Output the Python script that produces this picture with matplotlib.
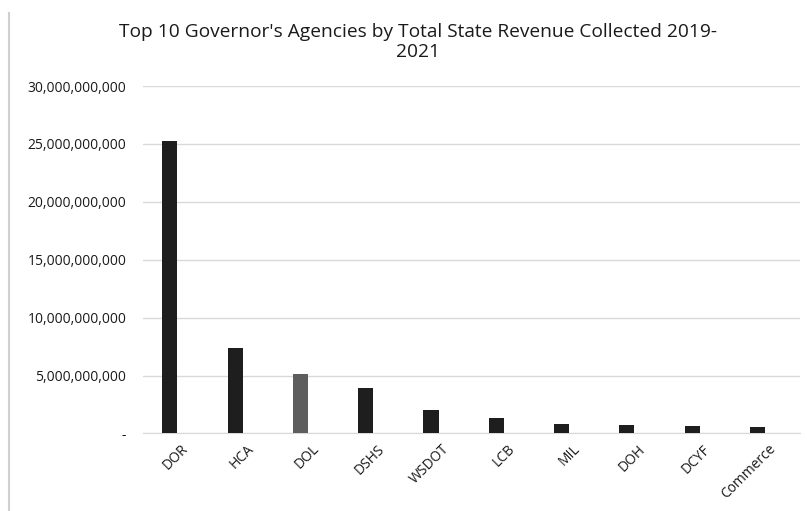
import numpy as np
import matplotlib
matplotlib.use("Agg")
import matplotlib.pyplot as plt
import matplotlib.transforms as mtransforms
from matplotlib.ticker import FuncFormatter
from matplotlib.lines import Line2D

# agencies and revenue collected (dollars)
agencies = ["DOR", "HCA", "DOL", "DSHS", "WSDOT", "LCB", "MIL", "DOH", "DCYF", "Commerce"]
revenue = [25.25e9, 7.38e9, 5.14e9, 3.93e9, 2.03e9, 1.31e9, 0.82e9, 0.73e9, 0.65e9, 0.54e9]
bar_colors = ["#1e1e1e", "#1e1e1e", "#5e5e5e", "#1e1e1e", "#1e1e1e",
              "#1e1e1e", "#1e1e1e", "#1e1e1e", "#1e1e1e", "#1e1e1e"]
yticks = [0, 5e9, 10e9, 15e9, 20e9, 25e9, 30e9]

plt.rcParams['font.family'] = ['Open Sans', 'DejaVu Sans']

fig = plt.figure(figsize=(8.07, 5.11), dpi=100)
ax = fig.add_axes([0.1772, 0.1517, 0.8141, 0.68])

x = np.arange(len(agencies))
ax.bar(x, revenue, width=0.23, color=bar_colors, zorder=3)

ax.set_xlim(-0.41, 9.65)
ax.set_ylim(0, 30e9)
ax.set_yticks(yticks)

def fmt(v, pos):
    if v == 0:
        return "-"
    return f"{v:,.0f}"

ax.yaxis.set_major_formatter(FuncFormatter(fmt))
ax.grid(axis="y", color="#d9d9d9", linewidth=1, zorder=0)
for s in ["top", "right", "left"]:
    ax.spines[s].set_visible(False)
ax.spines["bottom"].set_color("#d9d9d9")
ax.tick_params(axis="both", length=0, labelsize=10, colors="#1a1a1a")
ax.tick_params(axis="y", pad=12)

ax.set_xticks(x)
ax.set_xticklabels(agencies, rotation=45, ha="right", rotation_mode="anchor")
ax.tick_params(axis="x", pad=6)
shift = mtransforms.ScaledTranslation(11 / 100, 0, fig.dpi_scale_trans)
for lbl in ax.get_xticklabels():
    lbl.set_transform(lbl.get_transform() + shift)

fig.text(0.518, 0.918, "Top 10 Governor's Agencies by Total State Revenue Collected 2019-\n2021",
         ha="center", va="center", fontsize=13.8, color="#1a1a1a", linespacing=1.18)

# outer chart border (left edge visible in the source)
fig.add_artist(Line2D([0.011, 0.011], [0.0, 0.975], color="#d0d0d0", linewidth=1.5,
                      transform=fig.transFigure))

fig.savefig("out.png", dpi=100)
